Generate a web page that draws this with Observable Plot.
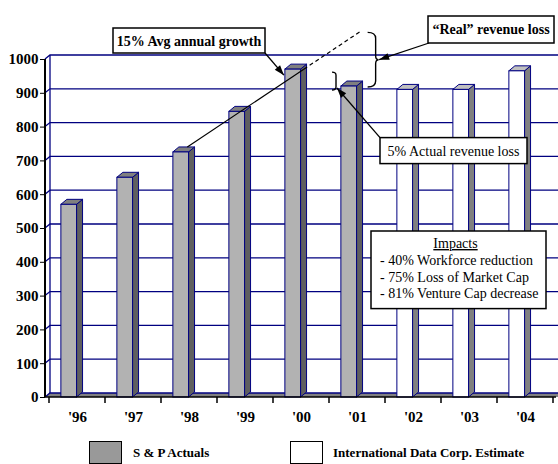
<!DOCTYPE html>
<html>
<head>
<meta charset="utf-8">
<script src="https://cdn.jsdelivr.net/npm/d3@7"></script>
<script src="https://cdn.jsdelivr.net/npm/@observablehq/plot@0.6"></script>
<style>
  body { margin: 0; background: #fff; }
  #chart svg text:not(.anno) { font-family: "Liberation Serif", serif; font-size: 15px; font-weight: bold; }
  #legend { position: relative; width: 558px; height: 28px; font-family: "Liberation Serif", serif; font-weight: bold; font-size: 13px; }
  .sw { position: absolute; top: 5px; width: 31px; height: 21px; border: 1px solid #000; }
  .lt { position: absolute; top: 9px; line-height: 16px; }
</style>
</head>
<body>
<div id="chart"></div>
<div id="legend">
  <div class="sw" style="left:89px;background:#999999"></div>
  <div class="lt" style="left:133px" id="l1"></div>
  <div class="sw" style="left:290px;background:#ffffff"></div>
  <div class="lt" style="left:333px" id="l2"></div>
</div>
<script>
// ---- data ----
const years = ["'96", "'97", "'98", "'99", "'00", "'01", "'02", "'03", "'04"];
const revenue = [570, 650, 725, 845, 970, 920, 910, 910, 965];
const sources = ["S & P Actuals", "S & P Actuals", "S & P Actuals", "S & P Actuals", "S & P Actuals", "S & P Actuals",
  "International Data Corp. Estimate", "International Data Corp. Estimate", "International Data Corp. Estimate"];
const seriesNames = ["S & P Actuals", "International Data Corp. Estimate"];
const yTicks = [0, 100, 200, 300, 400, 500, 600, 700, 800, 900, 1000];
const growthYears = ["'98", "'00", "'01"];   // start, end of solid part, end of dashed part
const growthValues = [725, 960, 1070];
const impactTitle = "Impacts";
const impacts = ["- 40% Workforce reduction", "- 75% Loss of Market Cap", "- 81% Venture Cap decrease"];

const rows = years.map((yr, i) => ({year: yr, value: revenue[i], source: sources[i]}));

document.getElementById("l1").textContent = seriesNames[0];
document.getElementById("l2").textContent = seriesNames[1];

const NAVY = "#000080";
const colors = {
  "S & P Actuals": {front: "#b2b2b2", side: "#5f5f5f", top: "#7f7f7f"},
  "International Data Corp. Estimate": {front: "#ffffff", side: "#808080", top: "#c0c0c0"}
};

function arrow(g, x1, y1, x2, y2) {
  g.append("line").attr("x1", x1).attr("y1", y1).attr("x2", x2).attr("y2", y2)
    .attr("stroke", "#000").attr("stroke-width", 1.3);
  const a = Math.atan2(y2 - y1, x2 - x1), len = 10, w = 3.5;
  const bx = x2 - len * Math.cos(a), by = y2 - len * Math.sin(a);
  const px = -Math.sin(a) * w, py = Math.cos(a) * w;
  g.append("path").attr("d", `M${x2},${y2}L${bx + px},${by + py}L${bx - px},${by - py}Z`).attr("fill", "#000");
}

function box(g, x0, y0, x1, y1) {
  g.append("rect").attr("x", x0).attr("y", y0).attr("width", x1 - x0).attr("height", y1 - y0)
    .attr("fill", "#fff").attr("stroke", "#000").attr("stroke-width", 1.5);
}

function label(g, x, y, txt, anchor, weight) {
  return g.append("text").attr("class", "anno").attr("x", x).attr("y", y).attr("text-anchor", anchor)
    .attr("font-family", "Liberation Serif, serif").attr("font-weight", weight).attr("font-size", 14).text(txt);
}

function scene(index, scales, values, dims) {
  const x = scales.x, y = scales.y;
  const bw = x.bandwidth();
  const L = dims.marginLeft, R = dims.width - dims.marginRight;
  const B = y(0), T = y(1000);
  const WX = 5, WY = -4, BX = 6, BY = -5;
  const g = d3.create("svg:g");

  // floor
  g.append("path").attr("d", `M${L},${B}L${L + WX},${B + WY}L${R + WX + 4},${B + WY}L${R + 4},${B}Z`)
    .attr("fill", "#808080");
  // gridlines (back wall)
  for (const v of yTicks) {
    g.append("path").attr("d", `M${L},${y(v)}L${L + WX},${y(v) + WY}L${R + WX + 4},${y(v) + WY}`)
      .attr("fill", "none").attr("stroke", NAVY).attr("stroke-width", 1.3);
  }
  g.append("path").attr("d", `M${L + WX},${B + WY}V${T + WY}`).attr("stroke", NAVY).attr("stroke-width", 1.3);

  // 3D bars
  for (const d of rows) {
    const c = colors[d.source];
    const xl = x(d.year) + bw * 0.212, w = bw * 0.28, yt = y(d.value);
    g.append("path").attr("d", `M${xl + w},${B}L${xl + w + BX},${B + BY}L${xl + w + BX},${yt + BY}L${xl + w},${yt}Z`)
      .attr("fill", c.side).attr("stroke", NAVY).attr("stroke-width", 1).attr("stroke-linejoin", "round");
    g.append("path").attr("d", `M${xl},${yt}L${xl + BX},${yt + BY}L${xl + w + BX},${yt + BY}L${xl + w},${yt}Z`)
      .attr("fill", c.top).attr("stroke", NAVY).attr("stroke-width", 1).attr("stroke-linejoin", "round");
    g.append("rect").attr("x", xl).attr("y", yt).attr("width", w).attr("height", B - yt)
      .attr("fill", c.front).attr("stroke", NAVY).attr("stroke-width", 1);
  }

  // axis lines and x ticks
  g.append("path").attr("d", `M${L},${T}V${B}`).attr("stroke", "#000").attr("stroke-width", 2);
  g.append("path").attr("d", `M${L},${B}H${R}`).attr("stroke", "#000").attr("stroke-width", 1.5);
  const bounds = years.map(yr => x(yr)).concat([x(years[years.length - 1]) + bw]);
  for (const bx of bounds) {
    g.append("path").attr("d", `M${bx},${B}V${B + 6}`).attr("stroke", "#000").attr("stroke-width", 1.5);
  }

  // growth line: straight from '98 to the '01 projection, solid up to '00 then dashed
  const p0 = [x(growthYears[0]) + bw * 0.47, y(growthValues[0]) + BY];
  const p2 = [x(growthYears[2]) + bw * 0.59, y(growthValues[2]) + BY];
  const sxs = x(growthYears[1]) + bw * 0.55;
  const t = (sxs - p0[0]) / (p2[0] - p0[0]);
  const p1 = [sxs, p0[1] + t * (p2[1] - p0[1])];
  g.append("line").attr("x1", p0[0]).attr("y1", p0[1]).attr("x2", p1[0]).attr("y2", p1[1])
    .attr("stroke", "#000").attr("stroke-width", 1.2);
  g.append("line").attr("x1", p1[0]).attr("y1", p1[1]).attr("x2", p2[0]).attr("y2", p2[1])
    .attr("stroke", "#000").attr("stroke-width", 1.2).attr("stroke-dasharray", "4,3");

  const x98 = x("'98"), x00 = x("'00"), x01 = x("'01"), x02 = x("'02"), x04 = x("'04");

  // 15% box
  const b1 = [x98 - 48, T - 31, x00 - 8, T - 6];
  arrow(g, b1[2], b1[3], x00 + bw * 0.195, y(970) + 6);
  box(g, ...b1);
  label(g, (b1[0] + b1[2]) / 2, b1[3] - 7, "15% Avg annual growth", "middle", "bold");

  // big brace ("real" loss) on '01
  const bxL = x01 + bw * 0.69, yTop = y(growthValues[2]) - 3, yBot = y(920) + 1, yMid = (yTop + yBot) / 2;
  g.append("path").attr("d",
    `M${bxL},${yTop}Q${bxL + 8},${yTop} ${bxL + 8},${yTop + 6}L${bxL + 8},${yMid - 4}Q${bxL + 8},${yMid} ${bxL + 11},${yMid}` +
    `Q${bxL + 8},${yMid} ${bxL + 8},${yMid + 4}L${bxL + 8},${yBot - 6}Q${bxL + 8},${yBot} ${bxL},${yBot}`)
    .attr("fill", "none").attr("stroke", "#000").attr("stroke-width", 1.4);
  // small bracket (actual loss)
  const sx = x01 + 3, sTop = y(970) + 3, sBot = y(920) + 4;
  g.append("path").attr("d", `M${sx},${sTop}Q${sx + 4},${sTop} ${sx + 4},${sTop + 3}L${sx + 4},${sBot - 3}Q${sx + 4},${sBot} ${sx},${sBot}`)
    .attr("fill", "none").attr("stroke", "#000").attr("stroke-width", 1.4);

  // "Real" box
  const b2 = [x02 + 43, T - 43, x04 + bw + 1, T - 16];
  arrow(g, b2[0] + 1, b2[3], bxL + 11.5, yMid);
  box(g, ...b2);
  label(g, (b2[0] + b2[2]) / 2, b2[3] - 9, "\u201CReal\u201D revenue loss", "middle", "bold");

  // 5% box
  const b3 = [x01 + 51, y(800) + 11, x04 + 30, y(800) + 37];
  arrow(g, b3[0], b3[1], sx + 5, sBot - 2);
  box(g, ...b3);
  label(g, (b3[0] + b3[2]) / 2, b3[3] - 8, "5% Actual revenue loss", "middle", "normal");

  // Impacts box
  const b4 = [x01 + 42, y(500) + 3, x04 + 49, y(300) + 13];
  box(g, ...b4);
  label(g, (b4[0] + b4[2]) / 2 - 3, b4[1] + 17, impactTitle, "middle", "normal").attr("text-decoration", "underline");
  impacts.forEach((t, i) => label(g, b4[0] + 9, b4[1] + 34 + i * 16.7, t, "start", "normal"));

  return g.node();
}

const chart = Plot.plot({
  width: 558,
  height: 436,
  marginLeft: 45,
  marginRight: 2,
  marginTop: 59,
  marginBottom: 39,
  style: {fontFamily: "Liberation Serif, serif", fontSize: "15px", fontWeight: "bold", background: "#fff", color: "#000"},
  x: {type: "band", domain: years, padding: 0, tickSize: 0, tickPadding: 14, label: null},
  y: {domain: [0, 1000], ticks: yTicks, tickFormat: "d", tickSize: 5, tickPadding: 2, label: null},
  marks: [scene]
});
document.getElementById("chart").appendChild(chart);
</script>
</body>
</html>
